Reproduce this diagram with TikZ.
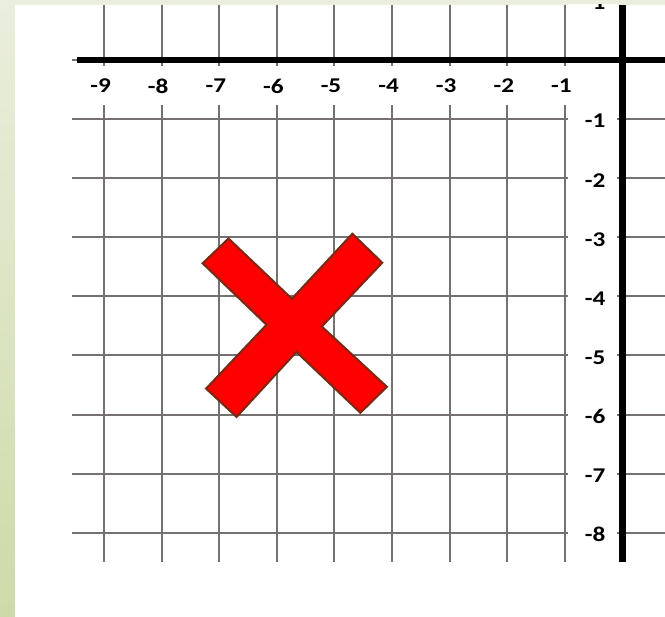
\documentclass[tikz,border=0pt]{standalone}
\usepackage{fontspec}
\setmainfont{Carlito}
\newfontfamily\labfont{Carlito}[FakeStretch=1.2]
\usetikzlibrary{positioning}
\definecolor{gridgray}{HTML}{767171}
\definecolor{crossred}{HTML}{FF0000}
\definecolor{crossedge}{HTML}{7A2A14}
\definecolor{sidelight}{HTML}{EAEEDD}
\definecolor{sidedark}{HTML}{CDDAA8}

\begin{document}
\begin{tikzpicture}[x=57.6pt, y=59.1pt,
    gridline/.style={draw=gridgray, line width=2pt},
    axisline/.style={draw=black, line width=6.5pt},
    xlab/.style={fill=white, font=\labfont\fontsize{21}{21}\selectfont\bfseries, minimum width=40pt, minimum height=39pt, inner sep=0pt},
    ylab/.style={fill=white, font=\labfont\fontsize{21}{21}\selectfont\bfseries, text width=26pt, align=right, inner xsep=11.5pt, inner ysep=0pt, minimum height=36pt, anchor=east, yshift=-2pt},
    cross/.style={fill=crossred, draw=crossedge, line width=2pt, line join=miter}
]
\useasboundingbox (-10.807,-9.408) rectangle (0.738,1.015);

% page background
\shade[top color=sidelight, bottom color=sidedark] (-10.807,-9.5) rectangle (0.8,1.015);
\fill[white] (-10.547,-9.5) rectangle (0.8,0.931);

\begin{scope}
\clip (-10.547,-9.5) rectangle (0.8,0.931);

% grid and axes
\foreach \gx in {-9,...,-1} \draw[gridline] (\gx,0.931) -- (\gx,-8.5);
\foreach \gy in {-8,...,0} \draw[gridline] (-9.55,\gy) -- (0.8,\gy);
\draw[axisline] (-9.47,0) -- (0.8,0);
\draw[axisline] (0,0.931) -- (0,-8.49);

% x labels
\node[xlab] (xm9) at (-9.06,-0.44) {-9};
\node[xlab] (xm8) at (-8.06,-0.44) {-8};
\node[xlab] (xm7) at (-7.06,-0.44) {-7};
\node[xlab] (xm6) at (-6.06,-0.44) {-6};
\node[xlab] (xm5) at (-5.06,-0.44) {-5};
\node[xlab] (xm4) at (-4.06,-0.44) {-4};
\node[xlab] (xm3) at (-3.06,-0.44) {-3};
\node[xlab] (xm2) at (-2.06,-0.44) {-2};
\node[xlab] (xm1) at (-1.06,-0.44) {-1};

% y labels
\node[ylab] (yp1) at (-0.095,1) {1};
\node[ylab] (ym1) at (-0.095,-1) {-1};
\node[ylab] (ym2) at (-0.095,-2) {-2};
\node[ylab] (ym3) at (-0.095,-3) {-3};
\node[ylab] (ym4) at (-0.095,-4) {-4};
\node[ylab] (ym5) at (-0.095,-5) {-5};
\node[ylab] (ym6) at (-0.095,-6) {-6};
\node[ylab] (ym7) at (-0.095,-7) {-7};
\node[ylab] (ym8) at (-0.095,-8) {-8};
\end{scope}

% the cross
\draw[cross] (-6.84,-3.02) -- (-5.74,-4.04) -- (-4.69,-2.94) -- (-4.17,-3.43)
  -- (-5.22,-4.51) -- (-4.09,-5.53) -- (-4.55,-5.97) -- (-5.66,-4.94)
  -- (-6.70,-6.04) -- (-7.23,-5.56) -- (-6.18,-4.48) -- (-7.29,-3.44) -- cycle;

\end{tikzpicture}
\end{document}
